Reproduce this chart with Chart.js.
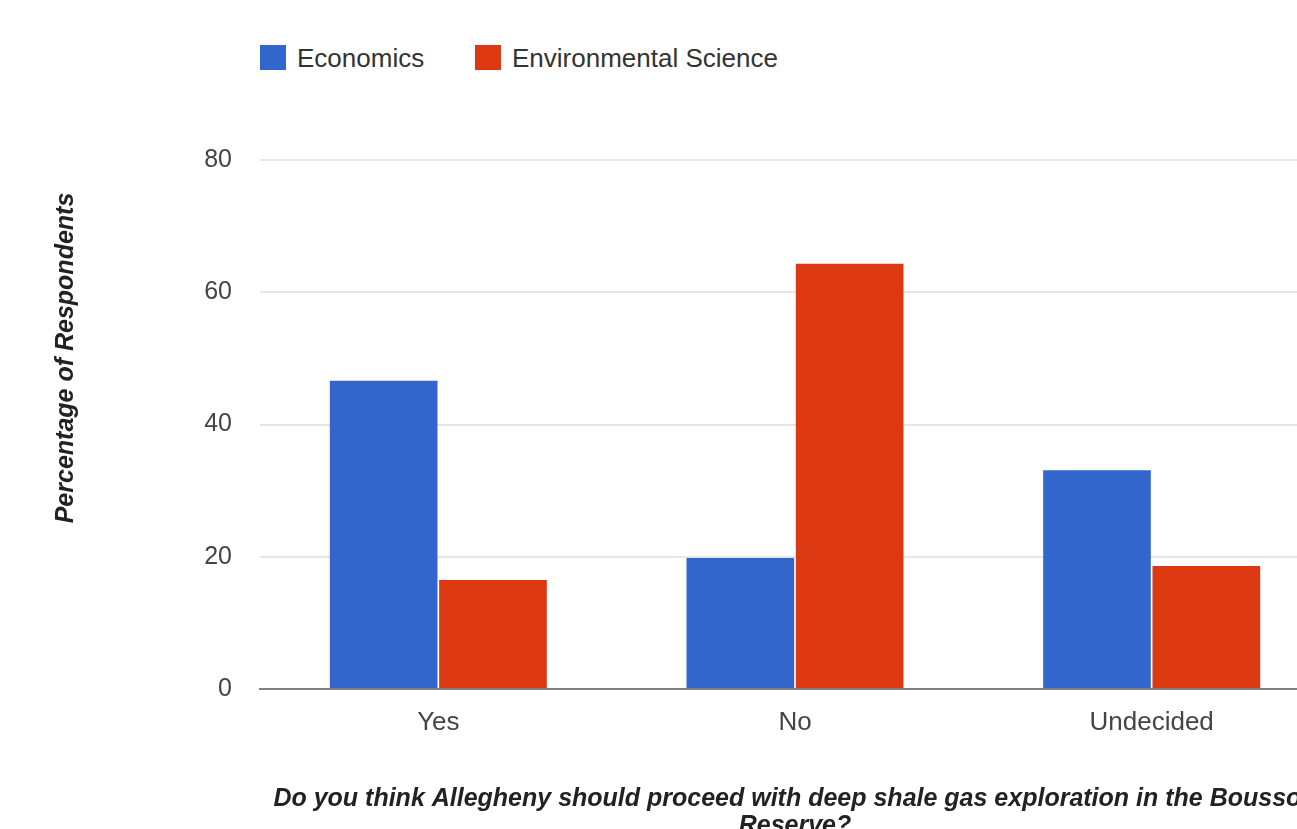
<!DOCTYPE html>
<html>
<head>
<meta charset="utf-8">
<script src="https://cdn.jsdelivr.net/npm/chart.js@4.4.0/dist/chart.umd.min.js"></script>
<style>
    body { margin: 0; background: #ffffff; overflow: hidden; width: 1297px; height: 829px; position: relative; }
    #grafico { position: absolute; left: 0; top: 0; }
    #legenda { position: absolute; left: 260px; top: 45px; font-family: Arial, "Liberation Sans", sans-serif; font-size: 26px; color: #333; }
    .item { position: absolute; top: 0; white-space: nowrap; height: 26px; line-height: 26px; }
    .caixa { display: inline-block; width: 26px; height: 25px; vertical-align: top; margin-right: 11px; }
</style>
</head>
<body>
<div id="legenda"></div>
<canvas id="grafico" width="1335" height="850"></canvas>
<script>
const categorias = ['Yes', 'No', 'Undecided'];
const economia = [46.6, 19.8, 33.1];
const cienciaAmbiental = [16.5, 64.3, 18.6];
const nomesSeries = ['Economics', 'Environmental Science'];
const coresSeries = ['#3366cc', '#dc3912'];
const ticksY = [0, 20, 40, 60, 80];

const tituloX = ['Do you think Allegheny should proceed with deep shale gas exploration in the Bousson', 'Reserve?'];
const tituloY = 'Percentage of Respondents';

const fonte = 'Arial, "Liberation Sans", sans-serif';

// legenda em html, alinhada com a area do grafico
function montarLegenda() {
    let legenda = document.querySelector('#legenda');
    let posicoes = [0, 215];
    let frase = ``;
    for (let i = 0; i < nomesSeries.length; i++) {
        frase += `<div class="item" style="left:${posicoes[i]}px"><span class="caixa" style="background:${coresSeries[i]}"></span>${nomesSeries[i]}</div>`;
    }
    legenda.innerHTML = frase;
}

// titulo do eixo y fora do centro, como no original
const tituloEixoY = {
    id: 'tituloEixoY',
    afterDraw(chart) {
        let ctx = chart.ctx;
        ctx.save();
        ctx.translate(66, 358);
        ctx.rotate(-Math.PI / 2);
        ctx.font = `italic bold 25px ${fonte}`;
        ctx.fillStyle = '#222';
        ctx.textAlign = 'center';
        ctx.textBaseline = 'middle';
        ctx.fillText(tituloY, 0, 0);
        ctx.restore();
    }
};

const config = {
    type: 'bar',
    data: {
        labels: categorias,
        datasets: [{
            label: nomesSeries[0],
            data: economia,
            backgroundColor: coresSeries[0],
            categoryPercentage: 0.613,
            barPercentage: 0.985
        }, {
            label: nomesSeries[1],
            data: cienciaAmbiental,
            backgroundColor: coresSeries[1],
            categoryPercentage: 0.613,
            barPercentage: 0.985
        }]
    },
    options: {
        responsive: false,
        animation: false,
        layout: {
            padding: { top: 160, right: 5, bottom: 0, left: 0 }
        },
        plugins: {
            legend: { display: false },
            tooltip: { enabled: false }
        },
        scales: {
            x: {
                grid: { display: false, drawTicks: false },
                border: { display: true, color: '#808080', width: 2 },
                ticks: {
                    color: '#444',
                    padding: 18,
                    font: { family: fonte, size: 26 }
                },
                title: {
                    display: true,
                    text: tituloX,
                    color: '#222',
                    padding: { top: 0, bottom: 10 },
                    font: { family: fonte, size: 25, style: 'italic', weight: 'bold', lineHeight: 1.1 }
                },
                afterFit: function (escala) {
                    escala.height = 850 - 689;
                }
            },
            y: {
                min: 0,
                max: 80,
                afterBuildTicks: function (escala) {
                    escala.ticks = ticksY.map(v => ({ value: v }));
                },
                grid: {
                    drawTicks: false,
                    lineWidth: 2,
                    color: function (ctx) {
                        return ctx.tick && ctx.tick.value === 0 ? '#808080' : '#e6e6e6';
                    }
                },
                border: { display: false },
                ticks: {
                    color: '#444',
                    padding: 28,
                    font: { family: fonte, size: 25 }
                },
                afterFit: function (escala) {
                    escala.width = 260;
                }
            }
        }
    },
    plugins: [tituloEixoY]
};

montarLegenda();

let grafico = new Chart(
    document.getElementById('grafico'),
    config
);
console.log('area:', grafico.chartArea);
</script>
</body>
</html>
